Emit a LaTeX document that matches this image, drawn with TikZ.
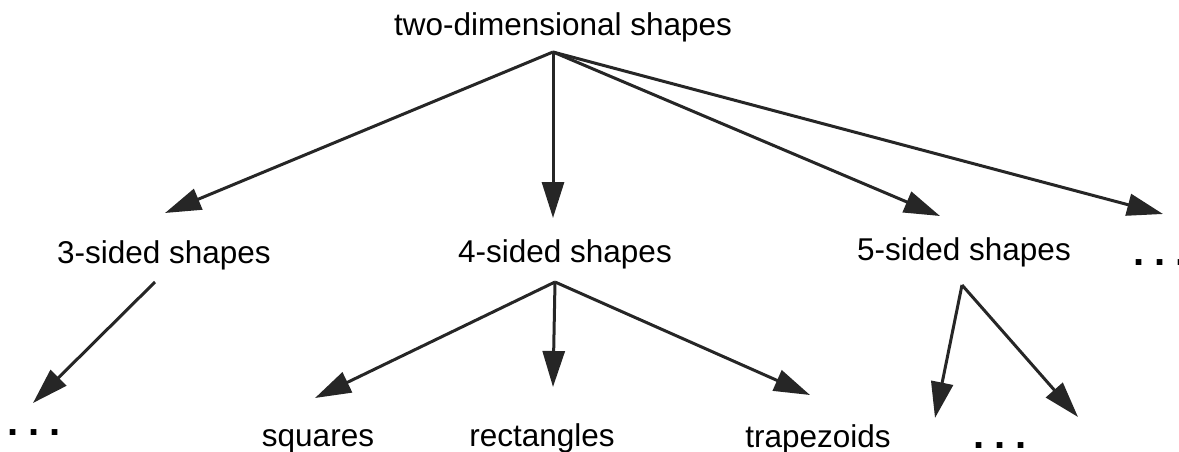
\documentclass[tikz,border=0pt]{standalone}
\usepackage{fontspec}
\setmainfont{Liberation Sans}
\usetikzlibrary{arrows.meta}
\newcommand{\mydots}{{\fontsize{40}{42}\selectfont\bfseries .\hspace{10pt}.\hspace{10pt}.}}
\tikzset{
  lbl/.style={anchor=base, inner sep=0pt, font=\fontsize{31.5}{36}\selectfont},
  arr/.style={line width=3pt, color=black!85, -{Triangle[length=36pt,width=22pt]}},
}
\begin{document}
\begin{tikzpicture}[x=1pt,y=-1pt]
\useasboundingbox (0,0) rectangle (1179,452);
% labels
\node[lbl] (root) at (563,36) {two-dimensional shapes};
\node[lbl] (s3) at (164,263) {3-sided shapes};
\node[lbl] (s4) at (565,262) {4-sided shapes};
\node[lbl] (s5) at (964,260) {5-sided shapes};
\node[lbl] (more) at (1160,265) {\mydots};
\node[lbl] (d3) at (34,435) {\mydots};
\node[lbl] (sq) at (318,446) {squares};
\node[lbl] (rect) at (542,446) {rectangles};
\node[lbl] (trap) at (818,447) {trapezoids};
\node[lbl] (d5) at (1000,448) {\mydots};
% connector points
\coordinate (rootout) at (553,52);
\coordinate (s3in) at (165,213);
\coordinate (s4in) at (553,218);
\coordinate (s5in) at (940,216);
\coordinate (morein) at (1163,214);
\coordinate (s3out) at (155,282);
\coordinate (d3in) at (33,403);
\coordinate (s4out) at (555,282);
\coordinate (sqin) at (315,398);
\coordinate (rectin) at (553,387);
\coordinate (trapin) at (810,395);
\coordinate (s5out) at (962,285);
\coordinate (d5ain) at (935,418);
\coordinate (d5bin) at (1078,417);
% arrows
\draw[arr] (rootout) -- (s3in);
\draw[arr] (rootout) -- (s4in);
\draw[arr] (rootout) -- (s5in);
\draw[arr] (rootout) -- (morein);
\draw[arr] (s3out) -- (d3in);
\draw[arr] (s4out) -- (sqin);
\draw[arr] (s4out) -- (rectin);
\draw[arr] (s4out) -- (trapin);
\draw[arr] (s5out) -- (d5ain);
\draw[arr] (s5out) -- (d5bin);
\end{tikzpicture}
\end{document}
